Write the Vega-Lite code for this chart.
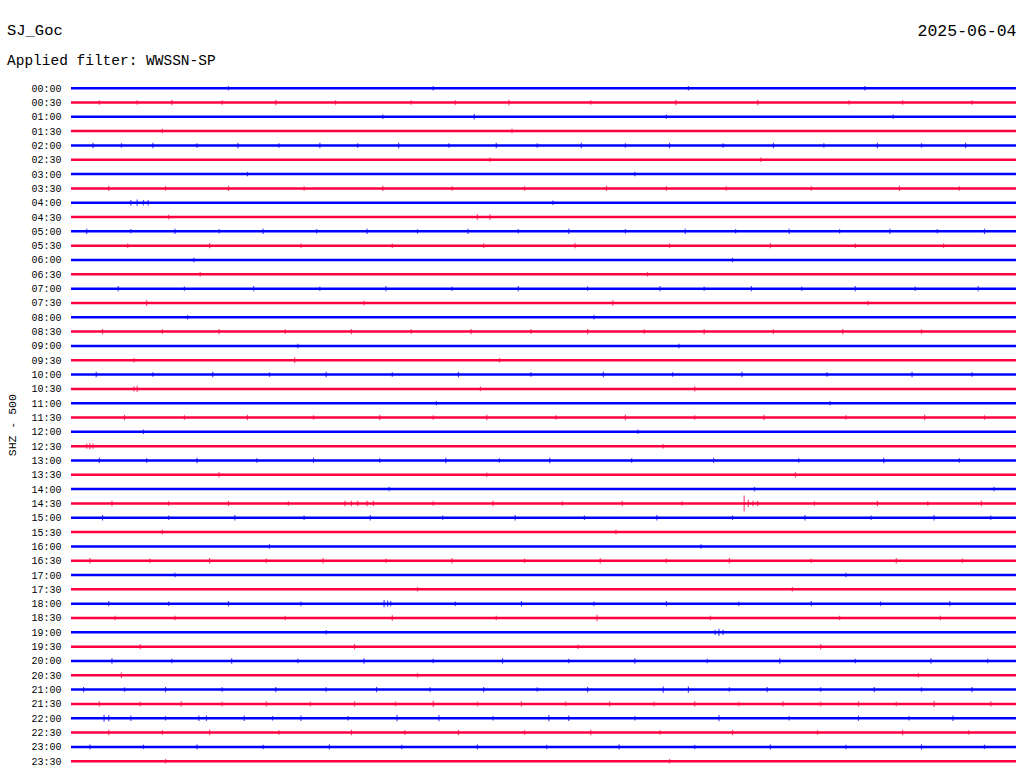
{
"$schema": "https://vega.github.io/schema/vega-lite/v6.json",
"background": "white",
"padding": {"left": 6, "top": 23, "right": 7, "bottom": 5},
"title": {"text": "SJ_Goc", "subtitle": "Applied filter: WWSSN-SP", "anchor": "start", "frame": "bounds", "font": "Liberation Mono", "fontSize": 15.5, "fontWeight": "normal", "color": "#000", "subtitleFont": "Liberation Mono", "subtitleFontSize": 14.5, "subtitleColor": "#000", "subtitlePadding": 16, "offset": -45},
"width": 945,
"height": 687.36,
"datasets": {
"traces": [
{"t":"00:00","c":"b"},{"t":"00:30","c":"r"},{"t":"01:00","c":"b"},{"t":"01:30","c":"r"},
{"t":"02:00","c":"b"},{"t":"02:30","c":"r"},{"t":"03:00","c":"b"},{"t":"03:30","c":"r"},
{"t":"04:00","c":"b"},{"t":"04:30","c":"r"},{"t":"05:00","c":"b"},{"t":"05:30","c":"r"},
{"t":"06:00","c":"b"},{"t":"06:30","c":"r"},{"t":"07:00","c":"b"},{"t":"07:30","c":"r"},
{"t":"08:00","c":"b"},{"t":"08:30","c":"r"},{"t":"09:00","c":"b"},{"t":"09:30","c":"r"},
{"t":"10:00","c":"b"},{"t":"10:30","c":"r"},{"t":"11:00","c":"b"},{"t":"11:30","c":"r"},
{"t":"12:00","c":"b"},{"t":"12:30","c":"r"},{"t":"13:00","c":"b"},{"t":"13:30","c":"r"},
{"t":"14:00","c":"b"},{"t":"14:30","c":"r"},{"t":"15:00","c":"b"},{"t":"15:30","c":"r"},
{"t":"16:00","c":"b"},{"t":"16:30","c":"r"},{"t":"17:00","c":"b"},{"t":"17:30","c":"r"},
{"t":"18:00","c":"b"},{"t":"18:30","c":"r"},{"t":"19:00","c":"b"},{"t":"19:30","c":"r"},
{"t":"20:00","c":"b"},{"t":"20:30","c":"r"},{"t":"21:00","c":"b"},{"t":"21:30","c":"r"},
{"t":"22:00","c":"b"},{"t":"22:30","c":"r"},{"t":"23:00","c":"b"},{"t":"23:30","c":"r"}
],
"spikes": [
{"t":"00:00","c":"b","m":5.0,"a":3},{"t":"00:00","c":"b","m":11.5,"a":3},{"t":"00:00","c":"b","m":19.6,"a":3},{"t":"00:00","c":"b","m":25.2,"a":3},
{"t":"00:30","c":"r","m":0.9,"a":3},{"t":"00:30","c":"r","m":3.2,"a":4},{"t":"00:30","c":"r","m":6.5,"a":4},{"t":"00:30","c":"r","m":10.8,"a":3},{"t":"00:30","c":"r","m":13.9,"a":4},{"t":"00:30","c":"r","m":19.2,"a":4},{"t":"00:30","c":"r","m":24.7,"a":3},{"t":"00:30","c":"r","m":28.6,"a":3},
{"t":"00:30","c":"r","m":2.1,"a":3},{"t":"00:30","c":"r","m":4.8,"a":3},{"t":"00:30","c":"r","m":8.4,"a":3},{"t":"00:30","c":"r","m":12.2,"a":3},{"t":"00:30","c":"r","m":16.5,"a":3},{"t":"00:30","c":"r","m":21.8,"a":4},{"t":"00:30","c":"r","m":26.4,"a":3},
{"t":"01:00","c":"b","m":9.9,"a":3},{"t":"01:00","c":"b","m":12.8,"a":4},{"t":"01:00","c":"b","m":18.9,"a":3},{"t":"01:00","c":"b","m":26.1,"a":3},
{"t":"01:30","c":"r","m":2.9,"a":3},{"t":"01:30","c":"r","m":14.0,"a":3},
{"t":"02:00","c":"b","m":0.7,"a":4},{"t":"02:00","c":"b","m":2.6,"a":4},{"t":"02:00","c":"b","m":5.3,"a":4},{"t":"02:00","c":"b","m":7.9,"a":4},{"t":"02:00","c":"b","m":10.4,"a":4},{"t":"02:00","c":"b","m":13.5,"a":4},{"t":"02:00","c":"b","m":16.2,"a":4},{"t":"02:00","c":"b","m":19.0,"a":4},{"t":"02:00","c":"b","m":22.3,"a":4},{"t":"02:00","c":"b","m":25.6,"a":4},{"t":"02:00","c":"b","m":28.4,"a":4},
{"t":"02:00","c":"b","m":1.6,"a":3},{"t":"02:00","c":"b","m":4.0,"a":3},{"t":"02:00","c":"b","m":6.6,"a":3},{"t":"02:00","c":"b","m":9.1,"a":3},{"t":"02:00","c":"b","m":12.0,"a":3},{"t":"02:00","c":"b","m":14.8,"a":3},{"t":"02:00","c":"b","m":17.6,"a":3},{"t":"02:00","c":"b","m":20.7,"a":3},{"t":"02:00","c":"b","m":23.9,"a":3},{"t":"02:00","c":"b","m":27.0,"a":3},
{"t":"02:30","c":"r","m":13.3,"a":3},{"t":"02:30","c":"r","m":21.9,"a":3},
{"t":"03:00","c":"b","m":5.6,"a":3},{"t":"03:00","c":"b","m":17.9,"a":3},
{"t":"03:30","c":"r","m":1.2,"a":4},{"t":"03:30","c":"r","m":5.0,"a":4},{"t":"03:30","c":"r","m":9.9,"a":4},{"t":"03:30","c":"r","m":14.4,"a":3},{"t":"03:30","c":"r","m":17.0,"a":4},{"t":"03:30","c":"r","m":20.8,"a":3},{"t":"03:30","c":"r","m":26.3,"a":4},
{"t":"03:30","c":"r","m":3.0,"a":3},{"t":"03:30","c":"r","m":7.4,"a":3},{"t":"03:30","c":"r","m":12.1,"a":3},{"t":"03:30","c":"r","m":18.9,"a":3},{"t":"03:30","c":"r","m":23.5,"a":3},{"t":"03:30","c":"r","m":28.2,"a":3},
{"t":"04:00","c":"b","m":1.9,"a":4},{"t":"04:00","c":"b","m":2.1,"a":5},{"t":"04:00","c":"b","m":2.3,"a":4},{"t":"04:00","c":"b","m":2.45,"a":4},{"t":"04:00","c":"b","m":15.3,"a":3},
{"t":"04:30","c":"r","m":3.1,"a":3},{"t":"04:30","c":"r","m":12.9,"a":4},{"t":"04:30","c":"r","m":13.3,"a":4},
{"t":"05:00","c":"b","m":0.5,"a":4},{"t":"05:00","c":"b","m":3.3,"a":4},{"t":"05:00","c":"b","m":6.1,"a":4},{"t":"05:00","c":"b","m":9.4,"a":4},{"t":"05:00","c":"b","m":12.6,"a":4},{"t":"05:00","c":"b","m":15.8,"a":4},{"t":"05:00","c":"b","m":19.5,"a":4},{"t":"05:00","c":"b","m":22.8,"a":4},{"t":"05:00","c":"b","m":26.0,"a":4},{"t":"05:00","c":"b","m":29.0,"a":4},
{"t":"05:00","c":"b","m":1.9,"a":3},{"t":"05:00","c":"b","m":4.7,"a":3},{"t":"05:00","c":"b","m":7.8,"a":3},{"t":"05:00","c":"b","m":11.0,"a":3},{"t":"05:00","c":"b","m":14.2,"a":3},{"t":"05:00","c":"b","m":17.6,"a":3},{"t":"05:00","c":"b","m":21.1,"a":3},{"t":"05:00","c":"b","m":24.4,"a":3},{"t":"05:00","c":"b","m":27.5,"a":3},
{"t":"05:30","c":"r","m":4.4,"a":4},{"t":"05:30","c":"r","m":10.2,"a":3},{"t":"05:30","c":"r","m":16.0,"a":4},{"t":"05:30","c":"r","m":22.2,"a":4},{"t":"05:30","c":"r","m":27.7,"a":3},
{"t":"05:30","c":"r","m":1.8,"a":3},{"t":"05:30","c":"r","m":7.3,"a":3},{"t":"05:30","c":"r","m":13.1,"a":3},{"t":"05:30","c":"r","m":19.0,"a":3},{"t":"05:30","c":"r","m":24.9,"a":3},
{"t":"06:00","c":"b","m":3.9,"a":3},{"t":"06:00","c":"b","m":21.0,"a":3},
{"t":"06:30","c":"r","m":4.1,"a":3},{"t":"06:30","c":"r","m":18.3,"a":3},
{"t":"07:00","c":"b","m":1.5,"a":4},{"t":"07:00","c":"b","m":5.8,"a":4},{"t":"07:00","c":"b","m":10.0,"a":4},{"t":"07:00","c":"b","m":14.2,"a":4},{"t":"07:00","c":"b","m":18.7,"a":4},{"t":"07:00","c":"b","m":21.6,"a":4},{"t":"07:00","c":"b","m":24.9,"a":4},{"t":"07:00","c":"b","m":28.8,"a":4},
{"t":"07:00","c":"b","m":3.6,"a":3},{"t":"07:00","c":"b","m":7.9,"a":3},{"t":"07:00","c":"b","m":12.1,"a":3},{"t":"07:00","c":"b","m":16.4,"a":3},{"t":"07:00","c":"b","m":20.1,"a":3},{"t":"07:00","c":"b","m":23.2,"a":3},{"t":"07:00","c":"b","m":26.8,"a":3},
{"t":"07:30","c":"r","m":2.4,"a":4},{"t":"07:30","c":"r","m":9.3,"a":3},{"t":"07:30","c":"r","m":17.2,"a":4},{"t":"07:30","c":"r","m":25.3,"a":3},
{"t":"08:00","c":"b","m":3.7,"a":3},{"t":"08:00","c":"b","m":16.6,"a":3},
{"t":"08:30","c":"r","m":1.0,"a":4},{"t":"08:30","c":"r","m":4.7,"a":4},{"t":"08:30","c":"r","m":8.9,"a":4},{"t":"08:30","c":"r","m":12.7,"a":4},{"t":"08:30","c":"r","m":16.4,"a":4},{"t":"08:30","c":"r","m":20.1,"a":4},{"t":"08:30","c":"r","m":24.5,"a":4},
{"t":"08:30","c":"r","m":2.9,"a":3},{"t":"08:30","c":"r","m":6.8,"a":3},{"t":"08:30","c":"r","m":10.8,"a":3},{"t":"08:30","c":"r","m":14.6,"a":3},{"t":"08:30","c":"r","m":18.2,"a":3},{"t":"08:30","c":"r","m":22.3,"a":3},{"t":"08:30","c":"r","m":27.0,"a":3},
{"t":"09:00","c":"b","m":7.2,"a":3},{"t":"09:00","c":"b","m":19.3,"a":3},
{"t":"09:30","c":"r","m":2.0,"a":3},{"t":"09:30","c":"r","m":7.1,"a":4},{"t":"09:30","c":"r","m":13.6,"a":3},
{"t":"10:00","c":"b","m":0.8,"a":4},{"t":"10:00","c":"b","m":4.5,"a":4},{"t":"10:00","c":"b","m":8.1,"a":4},{"t":"10:00","c":"b","m":12.3,"a":4},{"t":"10:00","c":"b","m":16.9,"a":4},{"t":"10:00","c":"b","m":21.3,"a":4},{"t":"10:00","c":"b","m":26.7,"a":4},
{"t":"10:00","c":"b","m":2.6,"a":3},{"t":"10:00","c":"b","m":6.3,"a":3},{"t":"10:00","c":"b","m":10.2,"a":3},{"t":"10:00","c":"b","m":14.6,"a":3},{"t":"10:00","c":"b","m":19.1,"a":3},{"t":"10:00","c":"b","m":24.0,"a":3},{"t":"10:00","c":"b","m":28.6,"a":3},
{"t":"10:30","c":"r","m":2.0,"a":4},{"t":"10:30","c":"r","m":2.1,"a":5},{"t":"10:30","c":"r","m":13.0,"a":3},{"t":"10:30","c":"r","m":19.8,"a":4},
{"t":"11:00","c":"b","m":11.6,"a":3},{"t":"11:00","c":"b","m":24.1,"a":3},
{"t":"11:30","c":"r","m":1.7,"a":4},{"t":"11:30","c":"r","m":5.6,"a":4},{"t":"11:30","c":"r","m":9.8,"a":4},{"t":"11:30","c":"r","m":13.2,"a":4},{"t":"11:30","c":"r","m":17.6,"a":4},{"t":"11:30","c":"r","m":22.0,"a":4},{"t":"11:30","c":"r","m":27.1,"a":4},
{"t":"11:30","c":"r","m":3.6,"a":3},{"t":"11:30","c":"r","m":7.7,"a":3},{"t":"11:30","c":"r","m":11.5,"a":3},{"t":"11:30","c":"r","m":15.4,"a":3},{"t":"11:30","c":"r","m":19.8,"a":3},{"t":"11:30","c":"r","m":24.6,"a":3},{"t":"11:30","c":"r","m":29.0,"a":3},
{"t":"12:00","c":"b","m":2.3,"a":3},{"t":"12:00","c":"b","m":18.0,"a":3},
{"t":"12:30","c":"r","m":0.5,"a":4},{"t":"12:30","c":"r","m":0.6,"a":5},{"t":"12:30","c":"r","m":0.7,"a":4},{"t":"12:30","c":"r","m":18.8,"a":3},
{"t":"13:00","c":"b","m":0.9,"a":4},{"t":"13:00","c":"b","m":4.0,"a":4},{"t":"13:00","c":"b","m":7.7,"a":4},{"t":"13:00","c":"b","m":11.9,"a":4},{"t":"13:00","c":"b","m":15.2,"a":4},{"t":"13:00","c":"b","m":20.4,"a":4},{"t":"13:00","c":"b","m":25.8,"a":4},
{"t":"13:00","c":"b","m":2.4,"a":3},{"t":"13:00","c":"b","m":5.9,"a":3},{"t":"13:00","c":"b","m":9.8,"a":3},{"t":"13:00","c":"b","m":13.6,"a":3},{"t":"13:00","c":"b","m":17.8,"a":3},{"t":"13:00","c":"b","m":23.1,"a":3},{"t":"13:00","c":"b","m":28.2,"a":3},
{"t":"13:30","c":"r","m":4.7,"a":4},{"t":"13:30","c":"r","m":13.2,"a":3},{"t":"13:30","c":"r","m":23.0,"a":4},
{"t":"14:00","c":"b","m":10.1,"a":3},{"t":"14:00","c":"b","m":21.7,"a":3},{"t":"14:00","c":"b","m":29.3,"a":3},
{"t":"14:30","c":"r","m":1.3,"a":4},{"t":"14:30","c":"r","m":5.0,"a":4},{"t":"14:30","c":"r","m":8.7,"a":4},{"t":"14:30","c":"r","m":8.9,"a":4},{"t":"14:30","c":"r","m":9.1,"a":4},{"t":"14:30","c":"r","m":9.4,"a":4},{"t":"14:30","c":"r","m":9.6,"a":4},{"t":"14:30","c":"r","m":13.4,"a":4},{"t":"14:30","c":"r","m":17.5,"a":4},{"t":"14:30","c":"r","m":21.37,"a":16},{"t":"14:30","c":"r","m":21.5,"a":6},{"t":"14:30","c":"r","m":21.65,"a":4},{"t":"14:30","c":"r","m":21.8,"a":4},{"t":"14:30","c":"r","m":25.6,"a":4},{"t":"14:30","c":"r","m":28.9,"a":4},
{"t":"14:30","c":"r","m":3.1,"a":3},{"t":"14:30","c":"r","m":6.9,"a":3},{"t":"14:30","c":"r","m":11.5,"a":3},{"t":"14:30","c":"r","m":15.6,"a":3},{"t":"14:30","c":"r","m":19.4,"a":3},{"t":"14:30","c":"r","m":23.6,"a":3},{"t":"14:30","c":"r","m":27.2,"a":3},
{"t":"15:00","c":"b","m":1.0,"a":4},{"t":"15:00","c":"b","m":5.2,"a":4},{"t":"15:00","c":"b","m":9.5,"a":4},{"t":"15:00","c":"b","m":14.1,"a":4},{"t":"15:00","c":"b","m":18.6,"a":4},{"t":"15:00","c":"b","m":23.3,"a":4},{"t":"15:00","c":"b","m":27.4,"a":4},
{"t":"15:00","c":"b","m":3.1,"a":3},{"t":"15:00","c":"b","m":7.4,"a":3},{"t":"15:00","c":"b","m":11.8,"a":3},{"t":"15:00","c":"b","m":16.3,"a":3},{"t":"15:00","c":"b","m":21.0,"a":3},{"t":"15:00","c":"b","m":25.4,"a":3},{"t":"15:00","c":"b","m":29.2,"a":3},
{"t":"15:30","c":"r","m":2.9,"a":3},{"t":"15:30","c":"r","m":17.3,"a":3},
{"t":"16:00","c":"b","m":6.3,"a":3},{"t":"16:00","c":"b","m":20.0,"a":3},
{"t":"16:30","c":"r","m":0.6,"a":4},{"t":"16:30","c":"r","m":4.4,"a":4},{"t":"16:30","c":"r","m":8.0,"a":4},{"t":"16:30","c":"r","m":12.1,"a":4},{"t":"16:30","c":"r","m":16.8,"a":4},{"t":"16:30","c":"r","m":20.9,"a":4},{"t":"16:30","c":"r","m":26.2,"a":4},
{"t":"16:30","c":"r","m":2.5,"a":3},{"t":"16:30","c":"r","m":6.2,"a":3},{"t":"16:30","c":"r","m":10.0,"a":3},{"t":"16:30","c":"r","m":14.4,"a":3},{"t":"16:30","c":"r","m":18.9,"a":3},{"t":"16:30","c":"r","m":23.5,"a":3},{"t":"16:30","c":"r","m":28.3,"a":3},
{"t":"17:00","c":"b","m":3.3,"a":3},{"t":"17:00","c":"b","m":24.6,"a":3},
{"t":"17:30","c":"r","m":11.0,"a":3},{"t":"17:30","c":"r","m":22.9,"a":3},
{"t":"18:00","c":"b","m":1.2,"a":4},{"t":"18:00","c":"b","m":5.0,"a":4},{"t":"18:00","c":"b","m":9.94,"a":6},{"t":"18:00","c":"b","m":10.05,"a":5},{"t":"18:00","c":"b","m":10.15,"a":4},{"t":"18:00","c":"b","m":14.3,"a":4},{"t":"18:00","c":"b","m":18.9,"a":4},{"t":"18:00","c":"b","m":23.5,"a":4},{"t":"18:00","c":"b","m":27.9,"a":4},
{"t":"18:00","c":"b","m":3.1,"a":3},{"t":"18:00","c":"b","m":7.3,"a":3},{"t":"18:00","c":"b","m":12.2,"a":3},{"t":"18:00","c":"b","m":16.6,"a":3},{"t":"18:00","c":"b","m":21.2,"a":3},{"t":"18:00","c":"b","m":25.7,"a":3},
{"t":"18:30","c":"r","m":3.3,"a":3},{"t":"18:30","c":"r","m":10.2,"a":4},{"t":"18:30","c":"r","m":16.7,"a":5},{"t":"18:30","c":"r","m":24.4,"a":3},
{"t":"18:30","c":"r","m":1.4,"a":3},{"t":"18:30","c":"r","m":6.8,"a":3},{"t":"18:30","c":"r","m":13.5,"a":3},{"t":"18:30","c":"r","m":20.3,"a":3},{"t":"18:30","c":"r","m":27.6,"a":3},
{"t":"19:00","c":"b","m":8.1,"a":3},{"t":"19:00","c":"b","m":20.45,"a":4},{"t":"19:00","c":"b","m":20.57,"a":6},{"t":"19:00","c":"b","m":20.7,"a":4},
{"t":"19:30","c":"r","m":2.2,"a":4},{"t":"19:30","c":"r","m":9.0,"a":4},{"t":"19:30","c":"r","m":16.1,"a":3},{"t":"19:30","c":"r","m":23.8,"a":4},
{"t":"20:00","c":"b","m":1.3,"a":4},{"t":"20:00","c":"b","m":5.1,"a":4},{"t":"20:00","c":"b","m":9.3,"a":4},{"t":"20:00","c":"b","m":13.7,"a":4},{"t":"20:00","c":"b","m":17.9,"a":4},{"t":"20:00","c":"b","m":22.5,"a":4},{"t":"20:00","c":"b","m":27.3,"a":4},
{"t":"20:00","c":"b","m":3.2,"a":3},{"t":"20:00","c":"b","m":7.2,"a":3},{"t":"20:00","c":"b","m":11.5,"a":3},{"t":"20:00","c":"b","m":15.8,"a":3},{"t":"20:00","c":"b","m":20.2,"a":3},{"t":"20:00","c":"b","m":24.9,"a":3},{"t":"20:00","c":"b","m":29.1,"a":3},
{"t":"20:30","c":"r","m":1.6,"a":4},{"t":"20:30","c":"r","m":11.0,"a":3},{"t":"20:30","c":"r","m":26.9,"a":3},
{"t":"21:00","c":"b","m":0.4,"a":4},{"t":"21:00","c":"b","m":3.0,"a":4},{"t":"21:00","c":"b","m":6.5,"a":4},{"t":"21:00","c":"b","m":9.7,"a":4},{"t":"21:00","c":"b","m":13.1,"a":4},{"t":"21:00","c":"b","m":16.4,"a":4},{"t":"21:00","c":"b","m":18.8,"a":5},{"t":"21:00","c":"b","m":19.6,"a":5},{"t":"21:00","c":"b","m":22.1,"a":4},{"t":"21:00","c":"b","m":25.5,"a":4},{"t":"21:00","c":"b","m":28.6,"a":4},
{"t":"21:00","c":"b","m":1.7,"a":3},{"t":"21:00","c":"b","m":4.8,"a":3},{"t":"21:00","c":"b","m":8.1,"a":3},{"t":"21:00","c":"b","m":11.4,"a":3},{"t":"21:00","c":"b","m":14.8,"a":3},{"t":"21:00","c":"b","m":20.9,"a":3},{"t":"21:00","c":"b","m":23.8,"a":3},{"t":"21:00","c":"b","m":27.0,"a":3},
{"t":"21:30","c":"r","m":0.9,"a":4},{"t":"21:30","c":"r","m":3.5,"a":4},{"t":"21:30","c":"r","m":6.2,"a":4},{"t":"21:30","c":"r","m":9.0,"a":4},{"t":"21:30","c":"r","m":11.5,"a":5},{"t":"21:30","c":"r","m":14.3,"a":4},{"t":"21:30","c":"r","m":17.1,"a":4},{"t":"21:30","c":"r","m":19.8,"a":4},{"t":"21:30","c":"r","m":22.6,"a":4},{"t":"21:30","c":"r","m":25.0,"a":4},{"t":"21:30","c":"r","m":27.4,"a":5},{"t":"21:30","c":"r","m":29.2,"a":4},
{"t":"21:30","c":"r","m":2.2,"a":3},{"t":"21:30","c":"r","m":4.8,"a":3},{"t":"21:30","c":"r","m":7.6,"a":3},{"t":"21:30","c":"r","m":10.3,"a":3},{"t":"21:30","c":"r","m":12.9,"a":3},{"t":"21:30","c":"r","m":15.7,"a":3},{"t":"21:30","c":"r","m":18.5,"a":3},{"t":"21:30","c":"r","m":21.2,"a":3},{"t":"21:30","c":"r","m":23.8,"a":3},{"t":"21:30","c":"r","m":26.2,"a":3},
{"t":"22:00","c":"b","m":1.05,"a":6},{"t":"22:00","c":"b","m":1.2,"a":5},{"t":"22:00","c":"b","m":1.9,"a":4},{"t":"22:00","c":"b","m":4.06,"a":4},{"t":"22:00","c":"b","m":4.3,"a":4},{"t":"22:00","c":"b","m":5.5,"a":4},{"t":"22:00","c":"b","m":7.3,"a":4},{"t":"22:00","c":"b","m":10.35,"a":5},{"t":"22:00","c":"b","m":11.68,"a":5},{"t":"22:00","c":"b","m":15.17,"a":5},{"t":"22:00","c":"b","m":15.8,"a":4},{"t":"22:00","c":"b","m":20.57,"a":5},{"t":"22:00","c":"b","m":25.0,"a":4},{"t":"22:00","c":"b","m":28.0,"a":4},
{"t":"22:00","c":"b","m":3.0,"a":3},{"t":"22:00","c":"b","m":6.4,"a":3},{"t":"22:00","c":"b","m":8.8,"a":3},{"t":"22:00","c":"b","m":13.4,"a":3},{"t":"22:00","c":"b","m":17.9,"a":3},{"t":"22:00","c":"b","m":22.8,"a":3},{"t":"22:00","c":"b","m":26.6,"a":3},
{"t":"22:30","c":"r","m":1.2,"a":4},{"t":"22:30","c":"r","m":4.4,"a":4},{"t":"22:30","c":"r","m":8.9,"a":4},{"t":"22:30","c":"r","m":12.3,"a":4},{"t":"22:30","c":"r","m":16.5,"a":4},{"t":"22:30","c":"r","m":21.0,"a":4},{"t":"22:30","c":"r","m":26.4,"a":4},
{"t":"22:30","c":"r","m":2.9,"a":3},{"t":"22:30","c":"r","m":6.6,"a":3},{"t":"22:30","c":"r","m":10.6,"a":3},{"t":"22:30","c":"r","m":14.4,"a":3},{"t":"22:30","c":"r","m":18.7,"a":3},{"t":"22:30","c":"r","m":23.7,"a":3},{"t":"22:30","c":"r","m":28.5,"a":3},
{"t":"23:00","c":"b","m":0.6,"a":4},{"t":"23:00","c":"b","m":4.0,"a":4},{"t":"23:00","c":"b","m":8.2,"a":4},{"t":"23:00","c":"b","m":12.9,"a":4},{"t":"23:00","c":"b","m":17.4,"a":4},{"t":"23:00","c":"b","m":22.2,"a":4},{"t":"23:00","c":"b","m":27.0,"a":4},
{"t":"23:00","c":"b","m":2.3,"a":3},{"t":"23:00","c":"b","m":6.1,"a":3},{"t":"23:00","c":"b","m":10.5,"a":3},{"t":"23:00","c":"b","m":15.1,"a":3},{"t":"23:00","c":"b","m":19.8,"a":3},{"t":"23:00","c":"b","m":24.6,"a":3},{"t":"23:00","c":"b","m":29.0,"a":3},
{"t":"23:30","c":"r","m":3.0,"a":3},{"t":"23:30","c":"r","m":19.0,"a":3}
]
},
"layer": [
 {"data": {"name": "traces"},
  "mark": {"type": "rule", "strokeWidth": 2.5},
  "encoding": {
    "y": {"field": "t", "type": "ordinal", "sort": "ascending", "scale": {"type": "point", "padding": 0.5},
          "axis": {"title": "SHZ - 500", "domain": false, "ticks": false, "grid": false, "labelPadding": 10, "labelFont": "Liberation Mono", "labelFontSize": 10, "labelColor": "#000", "titleFont": "Liberation Mono", "titleFontSize": 11.5, "titleFontWeight": "normal", "titleColor": "#000", "titlePadding": 13}},
    "color": {"field": "c", "type": "nominal", "scale": {"domain": ["b", "r"], "range": ["#0000ff", "#ff0040"]}, "legend": null}}},
 {"data": {"name": "spikes"},
  "mark": {"type": "tick", "orient": "vertical", "thickness": 1.2},
  "encoding": {
    "x": {"field": "m", "type": "quantitative", "scale": {"domain": [0, 30]},
          "axis": {"orient": "top", "title": "2025-06-04", "labels": false, "ticks": false, "domain": false, "grid": false, "titleAnchor": "end", "titleFont": "Liberation Mono", "titleFontSize": 16.5, "titleFontWeight": "normal", "titleColor": "#000", "titlePadding": 42}},
    "y": {"field": "t", "type": "ordinal", "sort": "ascending"},
    "size": {"field": "a", "type": "quantitative", "scale": {"type": "linear", "domain": [3, 16], "range": [4.5, 16], "clamp": true}, "legend": null},
    "color": {"field": "c", "type": "nominal", "legend": null}}}
],
"config": {"view": {"stroke": null}}
}
